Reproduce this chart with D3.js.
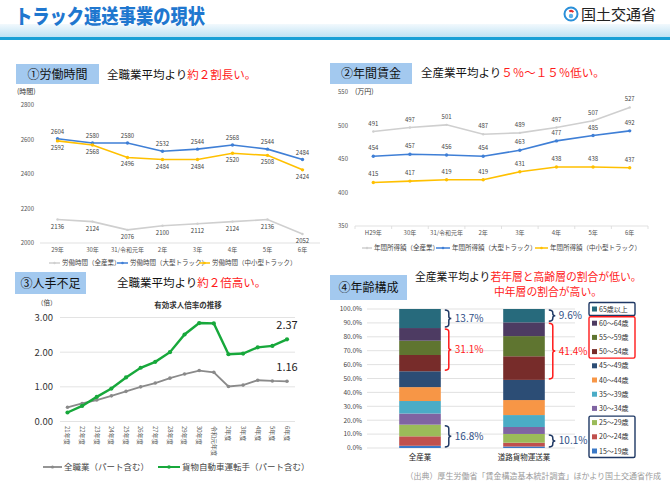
<!DOCTYPE html>
<html>
<head>
<meta charset="utf-8">
<script src="https://cdn.jsdelivr.net/npm/d3@7"></script>
<style>
  body { margin: 0; background: #fff; }
  svg { font-family: "Noto Sans CJK JP", "Noto Sans", sans-serif; }
</style>
</head>
<body>
<div id="chart"></div>
<script>
"use strict";

// ---- data ----
var hoursYears = ["29年", "30年", "31/令和元年", "2年", "3年", "4年", "5年", "6年"];
var hoursAll   = [2136, 2124, 2076, 2100, 2112, 2124, 2136, 2052];
var hoursLarge = [2604, 2580, 2580, 2532, 2544, 2568, 2544, 2484];
var hoursSmall = [2592, 2568, 2496, 2484, 2484, 2520, 2508, 2424];
var hoursTicks = [2000, 2200, 2400, 2600, 2800];

var wageYears = ["H29年", "30年", "31/令和元年", "2年", "3年", "4年", "5年", "6年"];
var wageAll   = [491, 497, 501, 487, 489, 497, 507, 527];
var wageLarge = [454, 457, 456, 454, 463, 477, 485, 492];
var wageSmall = [415, 417, 419, 419, 431, 438, 438, 437];
var wageTicks = [350, 400, 450, 500, 550];

var ratioYears = ["21年度", "22年度", "23年度", "24年度", "25年度", "26年度", "27年度", "28年度",
                  "29年度", "30年度", "令和元年度", "2年度", "3年度", "4年度", "5年度", "6年度"];
var ratioAll    = [0.41, 0.52, 0.62, 0.74, 0.87, 1.00, 1.11, 1.25, 1.37, 1.47, 1.42, 1.01, 1.05, 1.19, 1.17, 1.16];
var ratioDriver = [0.26, 0.45, 0.71, 0.95, 1.27, 1.55, 1.72, 2.00, 2.51, 2.84, 2.83, 1.94, 1.96, 2.14, 2.18, 2.37];
var ratioTicks  = [0, 1, 2, 3];

var ageGroups = ["15～19歳", "20～24歳", "25～29歳", "30～34歳", "35～39歳", "40～44歳",
                 "45～49歳", "50～54歳", "55～59歳", "60～64歳", "65歳以上"];
var ageIndustries = ["全産業", "道路貨物運送業"];
var ageAll   = [1.6, 6.8, 8.4, 8.0, 9.0, 10.0, 11.4, 11.7, 10.3, 9.1, 13.7];
var ageTruck = [1.1, 2.7, 6.3, 5.0, 8.6, 10.8, 14.5, 17.0, 14.5, 9.9, 9.6];
var ageTicks = [0, 10, 20, 30, 40, 50, 60, 70, 80, 90, 100];

var W = 670, H = 490;
var svg = d3.select("#chart").append("svg")
    .attr("width", W)
    .attr("height", H);

var defs = svg.append("defs");
var grad = defs.append("linearGradient").attr("id", "band")
    .attr("x1", 0).attr("y1", 0).attr("x2", 0).attr("y2", 1);
grad.append("stop").attr("offset", "0%").attr("stop-color", "#f2f9fd");
grad.append("stop").attr("offset", "100%").attr("stop-color", "#bfe2f4");

// ---- header ----
svg.append("rect").attr("x", 0).attr("y", 24).attr("width", W).attr("height", 13).attr("fill", "url(#band)");
svg.append("rect").attr("x", 0).attr("y", 37).attr("width", W).attr("height", 3).attr("fill", "#1aa0d6");
svg.append("text")
    .attr("x", 15).attr("y", 24)
    .attr("textLength", 190).attr("lengthAdjust", "spacingAndGlyphs")
    .style("font-size", "20px").style("font-weight", 900)
    .attr("fill", "#1f77cf")
    .attr("stroke", "#fff").attr("stroke-width", 0.6).attr("paint-order", "stroke")
    .text("トラック運送事業の現状");

// logo
var logo = svg.append("g").attr("transform", "translate(571,14)");
logo.append("circle").attr("r", 6.5).attr("fill", "none").attr("stroke", "#2a8fd8").attr("stroke-width", 2);
logo.append("path").attr("d", d3.arc()({innerRadius: 2, outerRadius: 4, startAngle: -0.6, endAngle: 0.9}))
    .attr("fill", "#e03030");
logo.append("circle").attr("r", 2.2).attr("cy", 2).attr("fill", "#5ab0e8");
svg.append("text").attr("x", 581).attr("y", 20)
    .style("font-size", "15px").attr("fill", "#222").text("国土交通省");

// ---- helpers ----
function panelLabel(x, y, w, h, txt) {
  svg.append("rect").attr("x", x).attr("y", y).attr("width", w).attr("height", h).attr("fill", "#a3c9ef");
  svg.append("text").attr("x", x + w / 2).attr("y", y + h / 2 + 4.5)
      .attr("text-anchor", "middle").style("font-size", "12px").attr("fill", "#111").text(txt);
}
function subtitle(x, y, black, red) {
  var t = svg.append("text").attr("x", x).attr("y", y).style("font-size", "11.5px");
  t.append("tspan").attr("fill", "#111").text(black);
  t.append("tspan").attr("fill", "#ff1a1a").text(red);
}
function lineLegend(g, x1, x2, y, color, txt, fs, sw, r) {
  g.append("line").attr("x1", x1).attr("x2", x2).attr("y1", y).attr("y2", y)
      .attr("stroke", color).attr("stroke-width", sw);
  g.append("circle").attr("cx", (x1 + x2) / 2).attr("cy", y).attr("r", r).attr("fill", color);
  g.append("text").attr("x", x2 + 2).attr("y", y + fs * 0.36)
      .style("font-size", fs + "px").attr("fill", "#444").text(txt);
}

// ================= panel 1 : working hours =================
panelLabel(16, 64, 83, 20, "①労働時間");
subtitle(107, 79, "全職業平均より", "約２割長い。");

var g1 = svg.append("g");
var x1 = d3.scaleBand().domain(hoursYears).range([40, 320]);
var y1 = d3.scaleLinear().domain([2000, 2800]).range([243, 105]);
var cx1 = function(i) { return x1(hoursYears[i]) + x1.bandwidth() / 2; };

g1.append("text").attr("x", 17).attr("y", 94).style("font-size", "7px").attr("fill", "#333").text("(時間)");
g1.selectAll(".yt").data(hoursTicks).enter().append("text")
    .attr("x", 34).attr("y", function(d) { return y1(d) + 2; })
    .attr("text-anchor", "end").style("font-size", "6px").attr("fill", "#555")
    .text(function(d) { return d; });
g1.append("line").attr("x1", 40).attr("x2", 320).attr("y1", y1(2000)).attr("y2", y1(2000))
    .attr("stroke", "#d9d9d9").attr("stroke-width", 0.8);
g1.selectAll(".xt").data(hoursYears).enter().append("text")
    .attr("x", function(d, i) { return cx1(i); }).attr("y", 252)
    .attr("text-anchor", "middle").style("font-size", "6px").attr("fill", "#555")
    .text(function(d) { return d; });

var series1 = [
  {vals: hoursAll, color: "#cfcfcf", dy: 9, r: 1.2},
  {vals: hoursLarge, color: "#3f7fd6", dy: -5, r: 1.7},
  {vals: hoursSmall, color: "#ffc000", dy: 9, r: 1.7}
];
var line1 = d3.line().x(function(d, i) { return cx1(i); }).y(function(d) { return y1(d); });
series1.forEach(function(s) {
  g1.append("path").attr("d", line1(s.vals)).attr("fill", "none")
      .attr("stroke", s.color).attr("stroke-width", 1.6);
  g1.selectAll(null).data(s.vals).enter().append("circle")
      .attr("cx", function(d, i) { return cx1(i); }).attr("cy", function(d) { return y1(d); })
      .attr("r", s.r).attr("fill", s.color);
  g1.selectAll(null).data(s.vals).enter().append("text")
      .attr("x", function(d, i) { return cx1(i); }).attr("y", function(d) { return y1(d) + s.dy; })
      .attr("text-anchor", "middle").style("font-size", "6px").attr("fill", "#444")
      .text(function(d) { return d; });
});
lineLegend(g1, 49, 60, 263, "#cfcfcf", "労働時間（全産業）", 6.5, 1.5, 1.2);
lineLegend(g1, 117, 128, 263, "#3f7fd6", "労働時間（大型トラック）", 6.5, 1.5, 1.3);
lineLegend(g1, 199, 210, 263, "#ffc000", "労働時間（中小型トラック）", 6.5, 1.5, 1.3);

// ================= panel 2 : annual wages =================
panelLabel(330, 63, 82, 21, "②年間賃金");
subtitle(421, 77, "全産業平均より", "５％～１５％低い。");

var g2 = svg.append("g");
var x2 = d3.scaleBand().domain(wageYears).range([355, 648]);
var y2 = d3.scaleLinear().domain([350, 550]).range([226, 92]);
var cx2 = function(i) { return x2(wageYears[i]) + x2.bandwidth() / 2; };

g2.append("text").attr("x", 355).attr("y", 94).style("font-size", "7px").attr("fill", "#333").text("(万円)");
g2.selectAll(".yt").data(wageTicks).enter().append("text")
    .attr("x", 348).attr("y", function(d) { return y2(d) + 2; })
    .attr("text-anchor", "end").style("font-size", "6px").attr("fill", "#555")
    .text(function(d) { return d; });
g2.append("line").attr("x1", 355).attr("x2", 648).attr("y1", y2(350)).attr("y2", y2(350))
    .attr("stroke", "#d9d9d9").attr("stroke-width", 0.8);
g2.selectAll(".tk").data(wageYears.concat(["end"])).enter().append("line")
    .attr("x1", function(d, i) { return 355 + i * x2.step(); })
    .attr("x2", function(d, i) { return 355 + i * x2.step(); })
    .attr("y1", y2(350)).attr("y2", y2(350) + 3)
    .attr("stroke", "#d9d9d9").attr("stroke-width", 0.8);
g2.selectAll(".xt").data(wageYears).enter().append("text")
    .attr("x", function(d, i) { return cx2(i); }).attr("y", 235)
    .attr("text-anchor", "middle").style("font-size", "6px").attr("fill", "#555")
    .text(function(d) { return d; });

var series2 = [
  {vals: wageAll, color: "#cfcfcf", r: 1.2},
  {vals: wageLarge, color: "#3f7fd6", r: 1.7},
  {vals: wageSmall, color: "#ffc000", r: 1.7}
];
var line2 = d3.line().x(function(d, i) { return cx2(i); }).y(function(d) { return y2(d); });
series2.forEach(function(s) {
  g2.append("path").attr("d", line2(s.vals)).attr("fill", "none")
      .attr("stroke", s.color).attr("stroke-width", 1.6);
  g2.selectAll(null).data(s.vals).enter().append("circle")
      .attr("cx", function(d, i) { return cx2(i); }).attr("cy", function(d) { return y2(d); })
      .attr("r", s.r).attr("fill", s.color);
  g2.selectAll(null).data(s.vals).enter().append("text")
      .attr("x", function(d, i) { return cx2(i); }).attr("y", function(d) { return y2(d) - 6; })
      .attr("text-anchor", "middle").style("font-size", "6px").attr("fill", "#444")
      .text(function(d) { return d; });
});
lineLegend(g2, 362, 372, 248, "#cfcfcf", "年間所得額（全産業）", 6.5, 1.5, 1.2);
lineLegend(g2, 436, 450, 248, "#3f7fd6", "年間所得額（大型トラック）", 6.5, 1.5, 1.3);
lineLegend(g2, 535, 548, 248, "#ffc000", "年間所得額（中小型トラック）", 6.5, 1.5, 1.3);

// ================= panel 3 : job-opening ratio =================
panelLabel(15, 272, 71, 22, "③人手不足");
subtitle(117, 287, "全職業平均より", "約２倍高い。");

var g3 = svg.append("g");
var x3 = d3.scalePoint().domain(ratioYears).range([67.5, 287]);
var y3 = d3.scaleLinear().domain([0, 3]).range([421.5, 317.5]);

g3.append("text").attr("x", 188).attr("y", 308).attr("text-anchor", "middle")
    .style("font-size", "7.5px").style("font-weight", "bold").attr("fill", "#333").text("有効求人倍率の推移");
g3.append("text").attr("x", 37).attr("y", 305).style("font-size", "6.5px").attr("fill", "#333").text("（倍）");
g3.selectAll(".gl").data(ratioTicks).enter().append("line")
    .attr("x1", 60).attr("x2", 295)
    .attr("y1", function(d) { return y3(d); }).attr("y2", function(d) { return y3(d); })
    .attr("stroke", "#dcdcdc").attr("stroke-width", 0.8);
g3.selectAll(".yt").data(ratioTicks).enter().append("text")
    .attr("x", 53).attr("y", function(d) { return y3(d) + 3.5; })
    .attr("text-anchor", "end").style("font-size", "9.5px").attr("fill", "#333")
    .text(function(d) { return d.toFixed(2); });
g3.selectAll(".xt").data(ratioYears).enter().append("text")
    .attr("transform", function(d) { return "translate(" + (x3(d) - 2.2) + ",426) rotate(90)"; })
    .style("font-size", "6px").attr("fill", "#555")
    .text(function(d) { return d; });

var series3 = [
  {vals: ratioAll, color: "#8a8a8a", sw: 1.8, r: 1.8},
  {vals: ratioDriver, color: "#17a83b", sw: 2.4, r: 2.1}
];
var line3 = d3.line().x(function(d, i) { return x3(ratioYears[i]); }).y(function(d) { return y3(d); });
series3.forEach(function(s) {
  g3.append("path").attr("d", line3(s.vals)).attr("fill", "none")
      .attr("stroke", s.color).attr("stroke-width", s.sw);
  g3.selectAll(null).data(s.vals).enter().append("circle")
      .attr("cx", function(d, i) { return x3(ratioYears[i]); }).attr("cy", function(d) { return y3(d); })
      .attr("r", s.r).attr("fill", s.color);
});
var lastI = ratioYears.length - 1;
g3.append("text").attr("x", x3(ratioYears[lastI])).attr("y", 329).attr("text-anchor", "middle")
    .style("font-size", "11px").attr("fill", "#222").text(ratioDriver[lastI].toFixed(2));
g3.append("text").attr("x", x3(ratioYears[lastI])).attr("y", 371).attr("text-anchor", "middle")
    .style("font-size", "11px").attr("fill", "#222").text(ratioAll[lastI].toFixed(2));
lineLegend(g3, 43, 62, 467, "#8a8a8a", "全職業（パート含む）", 8.5, 1.8, 1.6);
lineLegend(g3, 158, 180, 467, "#17a83b", "貨物自動車運転手（パート含む）", 8.5, 2, 1.8);

// ================= panel 4 : age structure =================
panelLabel(330, 275, 77, 25, "④年齢構成");
var st4 = svg.append("text").attr("x", 415).attr("y", 281).style("font-size", "10.8px");
st4.append("tspan").attr("fill", "#111").text("全産業平均より");
st4.append("tspan").attr("fill", "#ff1a1a").text("若年層と高齢層の割合が低い。");
svg.append("text").attr("x", 548).attr("y", 296).attr("text-anchor", "middle")
    .style("font-size", "10.8px").attr("fill", "#ff1a1a").text("中年層の割合が高い。");

var g4 = svg.append("g");
var y4 = d3.scaleLinear().domain([0, 100]).range([448, 309]);
var x4 = d3.scaleBand().domain(ageIndustries).range([368, 576]).paddingInner(0.6).paddingOuter(0.3);
var ageColors = d3.scaleOrdinal().domain(ageGroups)
    .range(["#3a78c6", "#c0504d", "#9bbb59", "#8064a2", "#4bacc6", "#f79646",
            "#2c4d75", "#772c2a", "#5f7530", "#4d3b62", "#276a7c"]);

g4.selectAll(".gl").data(ageTicks).enter().append("line")
    .attr("x1", 367).attr("x2", 575)
    .attr("y1", function(d) { return y4(d); }).attr("y2", function(d) { return y4(d); })
    .attr("stroke", "#d9d9d9").attr("stroke-width", 0.8);
g4.selectAll(".yt").data(ageTicks).enter().append("text")
    .attr("x", 362).attr("y", function(d) { return y4(d) + 2.3; })
    .attr("text-anchor", "end").style("font-size", "6.5px").attr("fill", "#444")
    .text(function(d) { return d.toFixed(1) + "%"; });

var ageRows = [ageAll, ageTruck].map(function(vals, j) {
  var row = {name: ageIndustries[j]};
  ageGroups.forEach(function(k, i) { row[k] = vals[i]; });
  return row;
});
var stacked = d3.stack().keys(ageGroups)(ageRows);
g4.selectAll(".layer").data(stacked).enter().append("g")
    .attr("fill", function(d) { return ageColors(d.key); })
  .selectAll("rect").data(function(d) { return d; }).enter().append("rect")
    .attr("x", function(d) { return x4(d.data.name); })
    .attr("width", x4.bandwidth())
    .attr("y", function(d) { return y4(d[1]); })
    .attr("height", function(d) { return y4(d[0]) - y4(d[1]); });

g4.selectAll(".xt").data(ageIndustries).enter().append("text")
    .attr("x", function(d) { return x4(d) + x4.bandwidth() / 2; }).attr("y", 460)
    .attr("text-anchor", "middle").style("font-size", "7.5px").attr("fill", "#222")
    .text(function(d) { return d; });

// brackets
function brace(x, yt, yb, color) {
  var ym = (yt + yb) / 2, w = 4;
  var p = "M" + x + "," + yt +
      " Q" + (x + w) + "," + yt + " " + (x + w) + "," + (yt + 3) +
      " L" + (x + w) + "," + (ym - 2) +
      " Q" + (x + w) + "," + ym + " " + (x + w + 2.5) + "," + ym +
      " Q" + (x + w) + "," + ym + " " + (x + w) + "," + (ym + 2) +
      " L" + (x + w) + "," + (yb - 3) +
      " Q" + (x + w) + "," + yb + " " + x + "," + yb;
  g4.append("path").attr("d", p).attr("fill", "none").attr("stroke", color).attr("stroke-width", 1.5);
}
var groups4 = [
  {from: 10, to: 10, color: "#1f3864"},
  {from: 7, to: 9, color: "#ff1a1a"},
  {from: 0, to: 2, color: "#1f3864"}
];
[ageAll, ageTruck].forEach(function(vals, j) {
  var bx = x4(ageIndustries[j]) + x4.bandwidth() + 4;
  groups4.forEach(function(gr) {
    var lo = d3.sum(vals.slice(0, gr.from));
    var hi = d3.sum(vals.slice(0, gr.to + 1));
    var yt = y4(hi) + 1, yb = y4(lo) - 1;
    brace(bx, yt, yb, gr.color);
    g4.append("text").attr("x", bx + 10).attr("y", (yt + yb) / 2 + 3.5)
        .style("font-size", "10px").attr("fill", gr.color === "#ff1a1a" ? "#ff1a1a" : "#2f4f86")
        .text((hi - lo).toFixed(1) + "%");
  });
});

// legend 4
var legRows = ageGroups.slice().reverse();
var legY = function(i) { return 309 + i * 14.2; };
g4.selectAll(".lg").data(legRows).enter().append("rect")
    .attr("x", 592).attr("y", function(d, i) { return legY(i) - 2.5; })
    .attr("width", 5).attr("height", 5)
    .attr("fill", function(d) { return ageColors(d); });
g4.selectAll(".lt").data(legRows).enter().append("text")
    .attr("x", 599).attr("y", function(d, i) { return legY(i) + 2.5; })
    .style("font-size", "7px").attr("fill", "#333")
    .text(function(d) { return d; });
[{a: 0, b: 0, c: "#1f3864"}, {a: 1, b: 3, c: "#ff1a1a"}, {a: 8, b: 10, c: "#1f3864"}].forEach(function(b) {
  g4.append("rect").attr("x", 589).attr("y", legY(b.a) - 6.5)
      .attr("width", 46).attr("height", legY(b.b) - legY(b.a) + 13)
      .attr("rx", 1.5).attr("fill", "none").attr("stroke", b.c).attr("stroke-width", 1.4);
});

// source
svg.append("text").attr("x", 661).attr("y", 479).attr("text-anchor", "end")
    .style("font-size", "8px").attr("fill", "#9a9a9a")
    .text("（出典）厚生労働省「賃金構造基本統計調査」ほかより国土交通省作成");
</script>
</body>
</html>
